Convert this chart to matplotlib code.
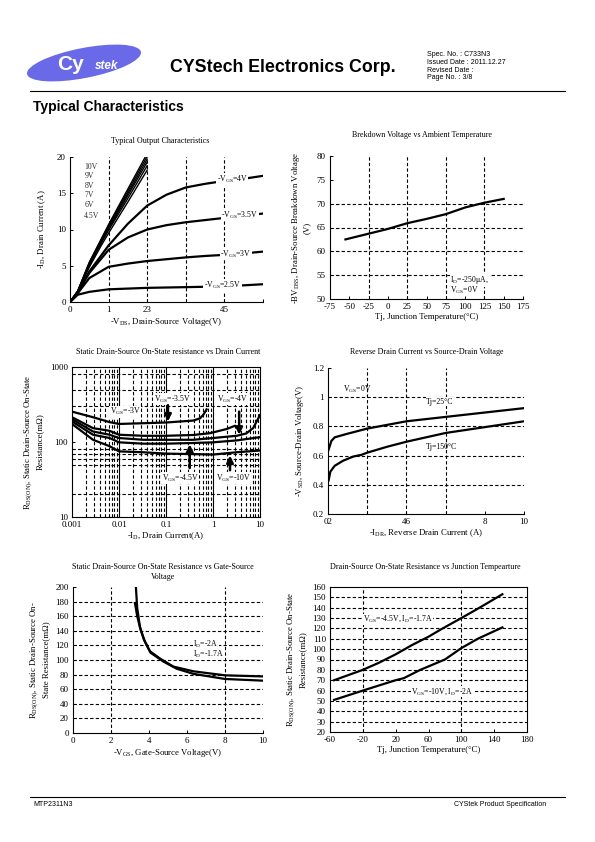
import matplotlib
matplotlib.use("Agg")
import matplotlib.pyplot as plt
from matplotlib.patches import Ellipse
import numpy as np

plt.rcParams['font.family'] = ['Liberation Serif', 'DejaVu Serif']
plt.rcParams['mathtext.fontset'] = 'custom'
plt.rcParams['mathtext.rm'] = 'Liberation Serif'
plt.rcParams['mathtext.it'] = 'Liberation Serif:italic'
plt.rcParams['mathtext.bf'] = 'Liberation Serif:bold'
plt.rcParams['axes.unicode_minus'] = False

# ---------------- data ----------------
# Chart 1: typical output characteristics
steep_vds = [0, 0.2, 0.5, 0.8, 1.0, 1.5, 2.0]
id_10v = [0, 1.5, 5.5, 8.6, 10.7, 15.6, 20.5]
id_9v = [0, 1.5, 5.4, 8.5, 10.5, 15.3, 20.1]
id_8v = [0, 1.5, 5.3, 8.4, 10.3, 15.0, 19.7]
id_7v = [0, 1.5, 5.2, 8.2, 10.1, 14.7, 19.3]
id_6v = [0, 1.5, 5.0, 8.0, 9.9, 14.3, 18.8]
id_45v = [0, 1.4, 4.8, 7.7, 9.5, 13.8, 18.2]
vds = [0, 0.2, 0.5, 1.0, 1.5, 2.0, 2.5, 3.0, 3.5, 4.0, 4.5, 5.0]
id_4v = [0, 1.3, 4.2, 7.8, 10.8, 13.3, 14.8, 15.8, 16.3, 16.7, 17.0, 17.4]
id_35v = [0, 1.3, 4.0, 7.2, 8.9, 10.0, 10.6, 11.0, 11.3, 11.6, 11.9, 12.2]
id_3v = [0, 1.2, 3.3, 4.85, 5.3, 5.65, 5.9, 6.15, 6.35, 6.5, 6.7, 6.95]
id_25v = [0, 1.0, 1.4, 1.75, 1.85, 1.95, 2.0, 2.05, 2.1, 2.2, 2.3, 2.45]
c1_xticklabels = ["0", "1", "23", "", "45", ""]

# Chart 2: breakdown voltage vs temperature
tj2 = [-55, -25, 0, 25, 50, 75, 100, 125, 150]
bv2 = [62.5, 63.7, 64.7, 65.9, 66.8, 67.8, 69.2, 70.2, 71.0]

# Chart 3: Rds(on) vs drain current (log-log)
id3_a = [0.001, 0.0028, 0.0063, 0.01, 0.033, 0.1, 0.38, 0.53, 0.62, 0.73]
r3_a = [254, 214, 184, 174, 178, 182, 193, 207, 230, 272]
id3_b = [0.001, 0.0028, 0.0063, 0.01, 0.033, 0.1, 0.38, 0.86, 1.95, 2.9]
r3_b = [214, 153, 141, 125, 121, 121, 124, 131, 149, 164]
id3_c = [0.001, 0.0028, 0.0063, 0.01, 0.033, 0.1, 0.38, 1.0, 3.2, 5.1, 7.2, 10]
r3_c = [201, 138, 125, 113, 107, 107, 107, 113, 121, 130, 154, 229]
id3_d = [0.001, 0.0028, 0.0063, 0.01, 0.033, 0.1, 0.38, 1.0, 3.2, 10]
r3_d = [188, 125, 113, 99, 95, 95, 97, 99, 105, 116]
id3_e = [0.001, 0.0028, 0.0063, 0.01, 0.033, 0.1, 0.38, 1.0, 3.2, 10]
r3_e = [174, 107, 88, 75, 73, 70, 69, 68, 73, 77]

# Chart 4: reverse drain current vs source-drain voltage
idr_25 = [0.03, 0.17, 0.34, 0.6, 1.0, 2.0, 4.0, 6.0, 8.0, 10.0]
vsd_25 = [0.64, 0.70, 0.725, 0.735, 0.75, 0.785, 0.835, 0.865, 0.895, 0.925]
idr_150 = [0.03, 0.12, 0.34, 0.77, 1.3, 1.7, 2.0, 3.0, 4.0, 6.0, 8.0, 10.0]
vsd_150 = [0.43, 0.49, 0.53, 0.565, 0.594, 0.605, 0.62, 0.66, 0.695, 0.755, 0.795, 0.835]
c4_xticklabels = ["02", "", "46", "", "8", "10"]

# Chart 5: Rds(on) vs gate-source voltage
vgs5_a = [3.31, 3.38, 3.52, 3.73, 4.05, 4.58, 5.28, 6.34, 8.0, 10.0]
r5_a = [200, 171, 146, 128, 112, 102, 91, 84.5, 79, 77.5]
vgs5_b = [3.26, 3.38, 3.56, 3.79, 4.08, 4.75, 5.46, 6.34, 8.0, 10.0]
r5_b = [178, 160, 141, 125, 110, 98, 88, 81, 74, 71.7]

# Chart 6: Rds(on) vs junction temperature
tj6 = [-55, -20, 0, 20, 40, 60, 75, 100, 120, 150]
r6_45 = [70, 80, 87, 95, 104, 112, 119, 130, 139, 153]
tj6b = [-55, -20, 0, 20, 30, 50, 80, 100, 120, 150]
r6_10 = [51, 60, 65, 70, 72, 80, 90, 101, 110, 121]

# ---------------- figure ----------------
W, H = 595, 842
fig = plt.figure(figsize=(W / 100, H / 100), dpi=100)

ov = fig.add_axes([0, 0, 1, 1])
ov.set_xlim(0, W)
ov.set_ylim(H, 0)
ov.axis('off')

sans = ['Liberation Sans', 'DejaVu Sans']
# Logo
ov.add_patch(Ellipse((84, 63), 116, 30, angle=-11, facecolor='#6a6ae8', edgecolor='none'))
ov.text(57, 65, 'Cy', family=sans, fontsize=15, fontweight='bold', color='white',
        va='center', ha='left')
ov.text(95, 66, 'stek', family=sans, fontsize=8.5, fontweight='bold', color='white',
        va='center', ha='left', style='italic')
ov.text(170, 68, 'CYStech Electronics Corp.', family=sans, fontsize=12.8,
        fontweight='bold', va='center', ha='left')
for i, s in enumerate(['Spec. No. : C733N3', 'Issued Date : 2011.12.27',
                       'Revised Date :', 'Page No. : 3/8']):
    ov.text(427, 55 + i * 7.6, s, family=sans, fontsize=5, va='center', ha='left')
ov.plot([30, 565], [91, 91], color='k', lw=0.8)
ov.text(33, 107, 'Typical Characteristics', family=sans, fontsize=10, fontweight='bold',
        va='center', ha='left')
ov.plot([30, 565], [797, 797], color='k', lw=0.8)
ov.text(33, 804, 'MTP2311N3', family=sans, fontsize=5, va='center', ha='left')
ov.text(546, 804, 'CYStek Product Specification', family=sans, fontsize=5,
        va='center', ha='right')

# titles
TFS = 5.8
ov.text(160, 141, 'Typical Output Characteristics', fontsize=TFS, ha='center', va='center')
ov.text(422, 135, 'Brekdown Voltage vs Ambient Temperature', fontsize=TFS, ha='center', va='center')
ov.text(168, 352, 'Static Drain-Source On-State resistance vs Drain Current', fontsize=TFS,
        ha='center', va='center')
ov.text(427, 352, 'Reverse Drain Current vs Source-Drain Voltage', fontsize=TFS,
        ha='center', va='center')
ov.text(163, 572, 'Static Drain-Source On-State Resistance vs Gate-Source\nVoltage',
        fontsize=TFS, ha='center', va='center', linespacing=1.3)
ov.text(425, 567, 'Drain-Source On-State Resistance vs Junction Tempearture', fontsize=TFS,
        ha='center', va='center')


def rect(x0, y0, x1, y1):
    return [x0 / W, 1 - y1 / H, (x1 - x0) / W, (y1 - y0) / H]


TKFS = 6.5
LFS = 6.3
LW = 1.6
AFS = 5.6
GRID = dict(color='k', lw=0.8, ls=(0, (3, 2)))


def style(ax, box=False):
    for s in ['top', 'right']:
        ax.spines[s].set_visible(box)
    for s in ax.spines.values():
        s.set_linewidth(0.8)
    ax.tick_params(direction='in', length=2.5, width=0.7, labelsize=TKFS, pad=3)
    ax.tick_params(which='minor', length=0)


# ---- Chart 1 ----
ax1 = fig.add_axes(rect(70, 157, 263, 302))
style(ax1)
for y in [id_10v, id_9v, id_8v, id_7v, id_6v, id_45v]:
    ax1.plot(steep_vds, y, color='k', lw=1.0)
for y in [id_4v, id_35v, id_3v, id_25v]:
    ax1.plot(vds, y, color='k', lw=LW)
for xv in [1, 2, 3, 4]:
    ax1.axvline(xv, **GRID)
ax1.set_xlim(0, 5)
ax1.set_ylim(0, 20)
ax1.set_xticks([0, 1, 2, 3, 4, 5])
ax1.set_xticklabels(c1_xticklabels)
ax1.set_yticks([0, 5, 10, 15, 20])
for lab, yy in zip(['10V', '9V', '8V', '7V', '6V', '4.5V'], [18.6, 17.4, 16.0, 14.7, 13.4, 11.9]):
    ax1.text(0.37, yy, lab, fontsize=AFS, color='#333333', ha='left', va='center')
bb = dict(facecolor='white', edgecolor='none', pad=0.5)
ax1.text(3.95, 2.3, r'-V$_{\rm GS}$=2.5V', fontsize=AFS, ha='center', va='center', bbox=bb)
ax1.text(4.3, 6.6, r'-V$_{\rm GS}$=3V', fontsize=AFS, ha='center', va='center', bbox=bb)
ax1.text(4.4, 12.0, r'-V$_{\rm GS}$=3.5V', fontsize=AFS, ha='center', va='center', bbox=bb)
ax1.text(4.2, 16.9, r'-V$_{\rm GS}$=4V', fontsize=AFS, ha='center', va='center', bbox=bb)
ax1.set_xlabel(r'-V$_{\rm DS}$, Drain-Source Voltage(V)', fontsize=LFS, labelpad=1)
ax1.set_ylabel(r'-I$_{\rm D}$, Drain Current (A)', fontsize=LFS, labelpad=6)

# ---- Chart 2 ----
ax2 = fig.add_axes(rect(330, 156, 523, 299))
style(ax2)
ax2.plot(tj2, bv2, color='k', lw=LW)
for xv in [-25, 25, 75, 125]:
    ax2.axvline(xv, **GRID)
for yv in [55, 60, 65, 70]:
    ax2.axhline(yv, **GRID)
ax2.set_xlim(-75, 175)
ax2.set_ylim(50, 80)
ax2.set_xticks(np.arange(-75, 176, 25))
ax2.set_yticks(np.arange(50, 81, 5))
ax2.text(81, 54.0, r'I$_{\rm D}$=-250μA,', fontsize=AFS, ha='left', va='center', bbox=bb)
ax2.text(81, 51.9, r'V$_{\rm GS}$=0V', fontsize=AFS, ha='left', va='center')
ax2.set_xlabel('Tj, Junction Temperature(°C)', fontsize=LFS, labelpad=1)
ax2.set_ylabel('-BV$_{\\rm DSS}$, Drain-Source Breakdown Voltage\n(V)', fontsize=LFS,
               labelpad=4, linespacing=1.2)

# ---- Chart 3 ----
ax3 = fig.add_axes(rect(72, 367, 260, 517))
style(ax3, box=True)
ax3.set_xscale('log')
ax3.set_yscale('log')
ax3.set_xlim(0.001, 10)
ax3.set_ylim(10, 1000)
for dec in [0.001, 0.01, 0.1, 1]:
    for m in range(2, 10):
        ax3.axvline(dec * m, **GRID)
for xv in [0.01, 0.1, 1]:
    ax3.axvline(xv, color='k', lw=0.8)
for yv in [20, 50, 60, 70, 80, 300, 500, 800]:
    ax3.axhline(yv, **GRID)
for xs, ys in [(id3_a, r3_a), (id3_b, r3_b), (id3_c, r3_c), (id3_d, r3_d), (id3_e, r3_e)]:
    ax3.plot(xs, ys, color='k', lw=LW)
ax3.set_xticks([0.001, 0.01, 0.1, 1, 10])
ax3.set_xticklabels(['0.001', '0.01', '0.1', '1', '10'])
ax3.set_yticks([10, 100, 1000])
ax3.set_yticklabels(['10', '100', '1000'])
ax3.tick_params(which='minor', length=0)
tb = dict(facecolor='white', edgecolor='none', pad=0.3)
ax3.text(0.0135, 254, r'V$_{\rm GS}$=-3V', fontsize=AFS, ha='center', va='center', bbox=tb)
ax3.text(0.14, 370, r'V$_{\rm GS}$=-3.5V', fontsize=AFS, ha='center', va='center', bbox=tb)
ax3.text(2.6, 370, r'V$_{\rm GS}$=-4V', fontsize=AFS, ha='center', va='center', bbox=tb)
ax3.text(0.2, 33, r'V$_{\rm GS}$=-4.5V', fontsize=AFS, ha='center', va='center', bbox=tb)
ax3.text(2.7, 33, r'V$_{\rm GS}$=-10V', fontsize=AFS, ha='center', va='center', bbox=tb)
ap = dict(arrowstyle='-|>', color='k', lw=1.8, mutation_scale=10, shrinkA=0, shrinkB=0)
ax3.annotate('', xy=(0.11, 188), xytext=(0.11, 310), arrowprops=ap)
ax3.annotate('', xy=(3.6, 125), xytext=(3.6, 254), arrowprops=ap)
ax3.annotate('', xy=(0.32, 93), xytext=(0.32, 45), arrowprops=ap)
ax3.annotate('', xy=(2.3, 66), xytext=(2.3, 42), arrowprops=ap)
ax3.set_xlabel(r'-I$_{\rm D}$, Drain Current(A)', fontsize=LFS, labelpad=1)
ax3.set_ylabel('R$_{\\rm DS(ON)}$, Static Drain-Source On-State\nResistance(mΩ)',
               fontsize=LFS, labelpad=4, linespacing=1.2)

# ---- Chart 4 ----
ax4 = fig.add_axes(rect(328, 368, 524, 514))
style(ax4)
ax4.plot(idr_25, vsd_25, color='k', lw=LW)
ax4.plot(idr_150, vsd_150, color='k', lw=LW)
for xv in [2, 4, 6]:
    ax4.axvline(xv, **GRID)
for yv in [0.4, 0.6, 0.8, 1.0]:
    ax4.axhline(yv, **GRID)
ax4.set_xlim(0, 10)
ax4.set_ylim(0.2, 1.2)
ax4.set_xticks([0, 2, 4, 6, 8, 10])
ax4.set_xticklabels(c4_xticklabels)
ax4.set_yticks([0.2, 0.4, 0.6, 0.8, 1.0, 1.2])
ax4.set_yticklabels(['0.2', '0.4', '0.6', '0.8', '1', '1.2'])
ax4.text(0.77, 1.05, r'V$_{\rm GS}$=0V', fontsize=AFS, ha='left', va='center')
ax4.text(5.0, 0.97, 'Tj=25°C', fontsize=AFS, ha='left', va='center', bbox=tb)
ax4.text(5.0, 0.66, 'Tj=150°C', fontsize=AFS, ha='left', va='center')
ax4.set_xlabel(r'-I$_{\rm DR}$, Reverse Drain Current (A)', fontsize=LFS, labelpad=1)
ax4.set_ylabel(r'-V$_{\rm SD}$, Source-Drain Voltage(V)', fontsize=LFS, labelpad=5)

# ---- Chart 5 ----
ax5 = fig.add_axes(rect(73, 587, 263, 733))
style(ax5)
ax5.plot(vgs5_a, r5_a, color='k', lw=LW)
ax5.plot(vgs5_b, r5_b, color='k', lw=LW)
for xv in [2, 8]:
    ax5.axvline(xv, **GRID)
for yv in range(20, 181, 20):
    ax5.axhline(yv, **GRID)
ax5.set_xlim(0, 10)
ax5.set_ylim(0, 200)
ax5.set_xticks(range(0, 11, 2))
ax5.set_yticks(range(0, 201, 20))
ax5.text(6.34, 122, r'I$_{\rm D}$=-2A', fontsize=AFS, ha='left', va='center', bbox=tb)
ax5.text(6.34, 108, r'I$_{\rm D}$=-1.7A', fontsize=AFS, ha='left', va='center', bbox=tb)
ax5.set_xlabel(r'-V$_{\rm GS}$, Gate-Source Voltage(V)', fontsize=LFS, labelpad=1)
ax5.set_ylabel('R$_{\\rm DS(ON)}$, Static Drain-Source On-\nState Resistance(mΩ)',
               fontsize=LFS, labelpad=4, linespacing=1.2)

# ---- Chart 6 ----
ax6 = fig.add_axes(rect(330, 587, 527, 732))
style(ax6, box=True)
ax6.plot(tj6, r6_45, color='k', lw=LW)
ax6.plot(tj6b, r6_10, color='k', lw=LW)
for xv in [-20, 100]:
    ax6.axvline(xv, **GRID)
for yv in range(30, 151, 10):
    ax6.axhline(yv, **GRID)
ax6.set_xlim(-60, 180)
ax6.set_ylim(20, 160)
ax6.set_xticks(range(-60, 181, 40))
ax6.set_yticks(range(20, 161, 10))
ax6.text(-20, 129, r'V$_{\rm GS}$=-4.5V, I$_{\rm D}$=-1.7A', fontsize=AFS, ha='left',
         va='center', bbox=tb)
ax6.text(39, 59, r'V$_{\rm GS}$=-10V, I$_{\rm D}$=-2A', fontsize=AFS, ha='left',
         va='center', bbox=tb)
ax6.set_xlabel('Tj, Junction Temperature(°C)', fontsize=LFS, labelpad=1)
ax6.set_ylabel('R$_{\\rm DS(ON)}$, Static Drain-Source On-State\nResistance(mΩ)',
               fontsize=LFS, labelpad=4, linespacing=1.2)

fig.savefig('out.png', dpi=100)
